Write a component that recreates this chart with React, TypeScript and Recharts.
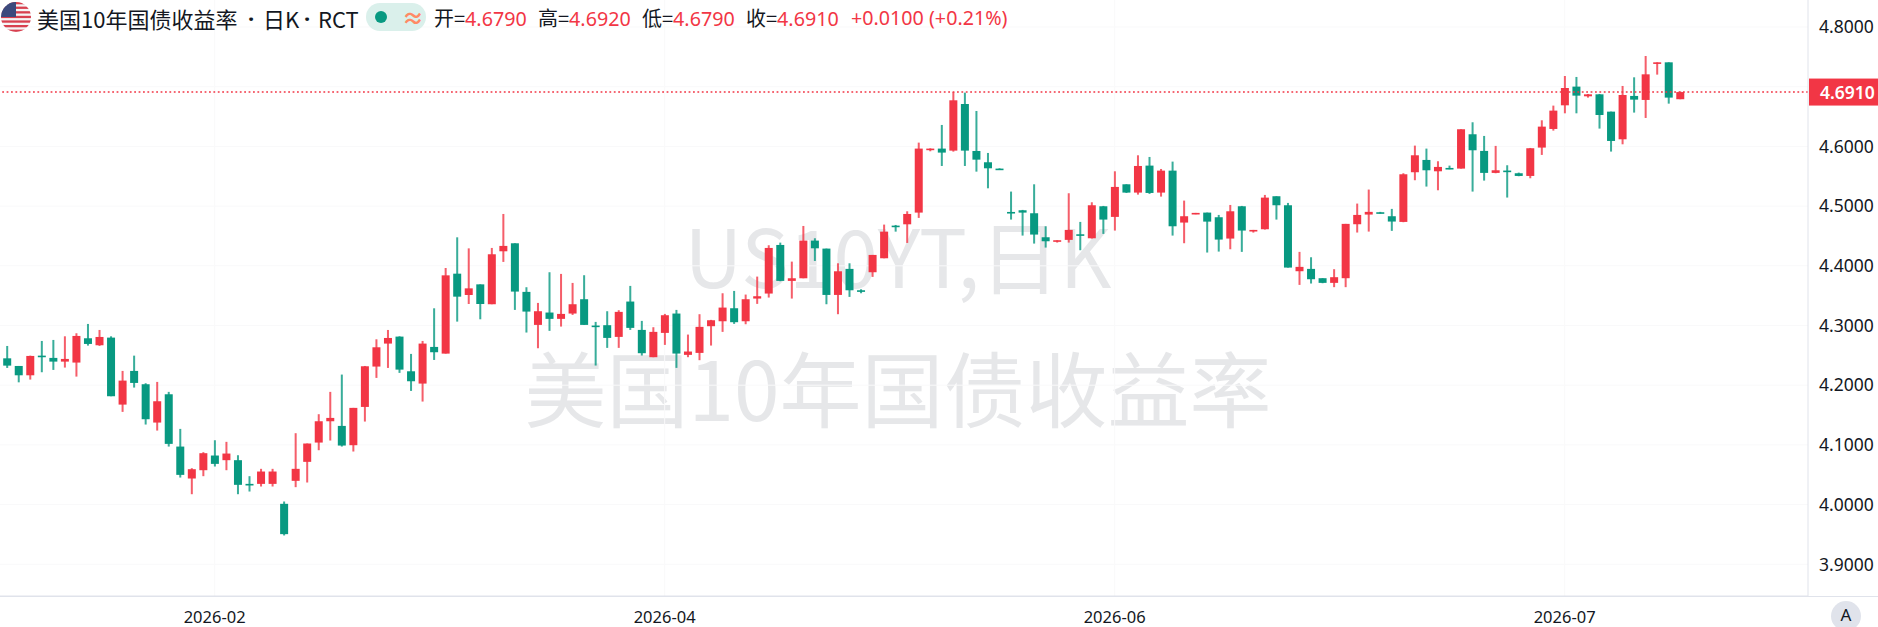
import { ComposedChart, Bar, XAxis, YAxis, CartesianGrid, ReferenceLine } from "recharts";

const opens = [
  4.2450, 4.2322, 4.2166, 4.2495, 4.2457, 4.2395, 4.2379, 4.2786, 4.2669, 4.2797,
  4.1675, 4.2239, 4.2016, 4.1374, 4.1848, 4.0972, 4.0437, 4.0576, 4.0822, 4.0744,
  4.0744, 4.0347, 4.0347, 4.0347, 4.0013, 4.0398, 4.0716, 4.1039, 4.1396, 4.1318,
  4.0995, 4.1636, 4.2312, 4.2697, 4.2814, 4.2233, 4.2027, 4.2641, 4.2529, 4.3868,
  4.3511, 4.3689, 4.3356, 4.4243, 4.4377, 4.3563, 4.3010, 4.3217, 4.3111, 4.3200,
  4.3440, 4.2999, 4.3005, 4.2809, 4.3401, 4.2926, 4.2469, 4.2876, 4.3200, 4.2508,
  4.2541, 4.2988, 4.3071, 4.3289, 4.3071, 4.3451, 4.3535, 4.4349, 4.3747, 4.3791,
  4.4422, 4.4288, 4.3512, 4.3948, 4.3590, 4.3892, 4.4126, 4.4673, 4.4695, 4.4891,
  4.5940, 4.5963, 4.5929, 4.6710, 4.5923, 4.5734, 4.5628, 4.4902, 4.4930, 4.4880,
  4.4478, 4.4406, 4.4434, 4.4528, 4.4461, 4.4997, 4.4819, 4.5365, 4.5226, 4.5678,
  4.5226, 4.5594, 4.4724, 4.4869, 4.4891, 4.4813, 4.4456, 4.4997, 4.4579, 4.4612,
  4.5165, 4.5014, 4.3909, 4.3948, 4.3792, 4.3714, 4.3792, 4.4696, 4.4858, 4.4897,
  4.4830, 4.4735, 4.5567, 4.5773, 4.5583, 4.5639, 4.5628, 4.6203, 4.5924, 4.5556,
  4.5595, 4.5550, 4.5505, 4.5980, 4.6292, 4.6688, 4.7001, 4.6839, 4.6872, 4.6582,
  4.6119, 4.6845, 4.6778, 4.7386, 4.7408, 4.6790,
];
const closes = [
  4.2328, 4.2166, 4.2490, 4.2473, 4.2395, 4.2440, 4.2825, 4.2691, 4.2808, 4.1815,
  4.2077, 4.2038, 4.1430, 4.1731, 4.1017, 4.0498, 4.0593, 4.0861, 4.0682, 4.0855,
  4.0331, 4.0325, 4.0554, 4.0554, 3.9505, 4.0599, 4.1023, 4.1396, 4.1452, 4.0989,
  4.1620, 4.2317, 4.2635, 4.2791, 4.2261, 4.2066, 4.2697, 4.2552, 4.3840, 4.3483,
  4.3622, 4.3360, 4.4193, 4.4333, 4.3568, 4.3233, 4.3239, 4.3111, 4.3194, 4.3356,
  4.3010, 4.2977, 4.2792, 4.3228, 4.2960, 4.2536, 4.2893, 4.3172, 4.2530, 4.2564,
  4.2977, 4.3088, 4.3300, 4.3055, 4.3440, 4.3490, 4.4299, 4.3747, 4.3791, 4.4422,
  4.4293, 4.3512, 4.3908, 4.3590, 4.3574, 4.4182, 4.4572, 4.4656, 4.4868, 4.5963,
  4.5963, 4.5896, 4.6772, 4.5929, 4.5778, 4.5633, 4.5611, 4.4880, 4.4891, 4.4523,
  4.4411, 4.4428, 4.4601, 4.4506, 4.5014, 4.4774, 4.5321, 4.5226, 4.5672, 4.5220,
  4.5594, 4.4662, 4.4830, 4.4886, 4.4740, 4.4439, 4.4913, 4.4590, 4.4601, 4.5142,
  4.5014, 4.3970, 4.3982, 4.3775, 4.3714, 4.3809, 4.4702, 4.4852, 4.4903, 4.4880,
  4.4741, 4.5533, 4.5851, 4.5600, 4.5656, 4.5623, 4.6287, 4.5935, 4.5556, 4.5600,
  4.5578, 4.5505, 4.5969, 4.6331, 4.6599, 4.6978, 4.6850, 4.6872, 4.6526, 4.6091,
  4.6861, 4.6783, 4.7207, 4.7408, 4.6817, 4.6910,
];
const highs = [
  4.2657, 4.2322, 4.2495, 4.2741, 4.2758, 4.2819, 4.2870, 4.3026, 4.2925, 4.2819,
  4.2239, 4.2495, 4.2033, 4.2055, 4.1888, 4.1268, 4.0610, 4.0878, 4.1078, 4.1051,
  4.0827, 4.0476, 4.0599, 4.0599, 4.0052, 4.1196, 4.1023, 4.1514, 4.1888, 4.2178,
  4.1620, 4.2322, 4.2769, 4.2925, 4.2819, 4.2524, 4.2741, 4.3288, 4.3963, 4.4477,
  4.4292, 4.3689, 4.4299, 4.4868, 4.4377, 4.3641, 4.3378, 4.3892, 4.3864, 4.3713,
  4.3842, 4.3060, 4.3239, 4.3256, 4.3663, 4.3077, 4.2971, 4.3194, 4.3261, 4.2848,
  4.3189, 4.3094, 4.3540, 4.3579, 4.3518, 4.3819, 4.4344, 4.4388, 4.4070, 4.4667,
  4.4461, 4.4288, 4.4042, 4.4042, 4.3607, 4.4182, 4.4690, 4.4684, 4.4913, 4.6063,
  4.5968, 4.6359, 4.6911, 4.6900, 4.6593, 4.5890, 4.5633, 4.5243, 4.4936, 4.5365,
  4.4662, 4.4428, 4.5215, 4.4735, 4.5064, 4.5003, 4.5583, 4.5365, 4.5851, 4.5823,
  4.5622, 4.5745, 4.5092, 4.4886, 4.4891, 4.4852, 4.5019, 4.5003, 4.4601, 4.5187,
  4.5165, 4.5053, 4.4233, 4.4143, 4.3792, 4.3943, 4.4702, 4.5042, 4.5277, 4.4903,
  4.4953, 4.5550, 4.6013, 4.5963, 4.5751, 4.5678, 4.6287, 4.6404, 4.6175, 4.6008,
  4.5684, 4.5561, 4.5974, 4.6437, 4.6683, 4.7179, 4.7163, 4.6878, 4.6878, 4.6582,
  4.7012, 4.7157, 4.7514, 4.7408, 4.7408, 4.6920,
];
const lows = [
  4.2289, 4.2048, 4.2094, 4.2217, 4.2256, 4.2295, 4.2144, 4.2663, 4.2658, 4.1815,
  4.1553, 4.1960, 4.1341, 4.1240, 4.0972, 4.0453, 4.0174, 4.0476, 4.0638, 4.0576,
  4.0174, 4.0219, 4.0303, 4.0303, 3.9483, 4.0292, 4.0370, 4.0911, 4.1073, 4.0972,
  4.0889, 4.1391, 4.2122, 4.2289, 4.2206, 4.1904, 4.1726, 4.2423, 4.2529, 4.3065,
  4.3360, 4.3104, 4.3356, 4.4065, 4.3261, 4.2882, 4.2619, 4.2910, 4.2982, 4.3177,
  4.3010, 4.2329, 4.2625, 4.2625, 4.2926, 4.2497, 4.2469, 4.2675, 4.2290, 4.2469,
  4.2419, 4.2664, 4.2893, 4.3027, 4.3021, 4.3362, 4.3468, 4.3741, 4.3451, 4.3791,
  4.4081, 4.3356, 4.3189, 4.3479, 4.3540, 4.3814, 4.4126, 4.4572, 4.4383, 4.4802,
  4.5918, 4.5672, 4.5912, 4.5672, 4.5577, 4.5298, 4.5605, 4.4774, 4.4506, 4.4372,
  4.4305, 4.4389, 4.4389, 4.4261, 4.4456, 4.4534, 4.4590, 4.5220, 4.5192, 4.5204,
  4.5159, 4.4506, 4.4378, 4.4863, 4.4222, 4.4238, 4.4277, 4.4233, 4.4556, 4.4607,
  4.4774, 4.3970, 4.3680, 4.3703, 4.3708, 4.3642, 4.3642, 4.4557, 4.4573, 4.4875,
  4.4585, 4.4730, 4.5433, 4.5327, 4.5265, 4.5617, 4.5628, 4.5243, 4.5427, 4.5550,
  4.5143, 4.5500, 4.5466, 4.5857, 4.6264, 4.6554, 4.6554, 4.6817, 4.6298, 4.5913,
  4.6035, 4.6566, 4.6476, 4.7202, 4.6716, 4.6790,
];

const priceTicks = [3.9, 4.0, 4.1, 4.2, 4.3, 4.4, 4.5, 4.6, 4.8];
const gridPrices = [3.9, 4.0, 4.1, 4.2, 4.3, 4.4, 4.5, 4.6, 4.7, 4.8];
const dateTickBars = [18, 57, 96, 135];
const dateTickLabels = ["2026-02", "2026-04", "2026-06", "2026-07"];
const lastPrice = 4.691;
const emptyBarsRight = 10;

const titleParts = [
  { text: "美国10年国债收益率", left: 37 },
  { text: "·", left: 248 },
  { text: "日K", left: 263 },
  { text: "·", left: 304 },
  { text: "RCT", left: 318 },
];
const legendValues = [
  { label: "开=", value: "4.6790", left: 434 },
  { label: "高=", value: "4.6920", left: 538 },
  { label: "低=", value: "4.6790", left: 642 },
  { label: "收=", value: "4.6910", left: 746 },
];
const legendChange = "+0.0100 (+0.21%)";

const RED = "#f23645";
const GREEN = "#089981";
const INK = "#131722";
const FONT = '"Noto Sans", "Noto Sans CJK SC", sans-serif';
const CJK = '"Noto Sans CJK SC", sans-serif';

const rows = [
  ...opens.map((open, i) => ({
    bar: i,
    open,
    close: closes[i],
    body: [Math.min(open, closes[i]), Math.max(open, closes[i])],
    wick: [lows[i], highs[i]],
  })),
  ...Array.from({ length: emptyBarsRight }, (_, i) => ({ bar: opens.length + i })),
];

function candlePart(props: any) {
  const { x, y, width, height, payload } = props;
  if (payload.open === undefined) return <g />;
  const color = payload.close >= payload.open ? RED : GREEN;
  const h = Math.max(height, 1.6);
  return <rect x={x} y={y} width={width} height={h} fill={color} />;
}

function wickPart(props: any) {
  const { x, y, width, height, payload } = props;
  if (payload.open === undefined) return <g />;
  const color = payload.close >= payload.open ? RED : GREEN;
  return <rect x={x} y={y} width={width} height={height} fill={color} fillOpacity={0.8} />;
}

function PriceTag(props: any) {
  const { viewBox } = props;
  const x = viewBox.x + viewBox.width;
  const y = viewBox.y;
  return (
    <g>
      <rect x={x + 1} y={y - 13.5} width={70} height={27} fill={RED} />
      <text x={x + 12} y={y + 6.5} fill="#fff" fontSize={17.5} fontFamily={FONT} fontWeight={600}>
        {lastPrice.toFixed(4)}
      </text>
    </g>
  );
}

function Flag() {
  return (
    <svg width={30} height={30} viewBox="0 0 30 30" style={{ position: "absolute", left: 1, top: 2 }}>
      <defs>
        <clipPath id="flagRound">
          <circle cx={15} cy={15} r={15} />
        </clipPath>
      </defs>
      <g clipPath="url(#flagRound)">
        <rect width={30} height={30} fill="#f5f5f5" />
        {[0, 4.6, 9.2, 13.8, 18.4, 23, 27.6].map((y) => (
          <rect key={y} y={y} width={30} height={2.3} fill="#d8404f" />
        ))}
        <rect width={15} height={15} fill="#3c4a7d" />
      </g>
    </svg>
  );
}

export default function App() {
  const common = { position: "absolute" as const, whiteSpace: "nowrap" as const };
  return (
    <div style={{ position: "absolute", left: 0, top: 0, width: 1878, height: 627, overflow: "hidden", background: "#fff", fontFamily: FONT }}>
      <div style={{ ...common, left: 0, width: 1796, textAlign: "center", top: 178, fontSize: 80, color: "#e6e7e9", lineHeight: "150px", fontFamily: CJK }}>
        US10YT,日K
      </div>
      <div style={{ ...common, left: 0, width: 1796, textAlign: "center", top: 321, fontSize: 82, color: "#e6e7e9", lineHeight: "130px", fontFamily: CJK }}>
        美国10年国债收益率
      </div>

      <div style={{ position: "absolute", left: 0, top: 0 }}>
        <ComposedChart width={1878} height={627} data={rows} margin={{ top: 0, right: 0, bottom: 0, left: 0 }}>
          <CartesianGrid
            xAxisId="body"
            yAxisId="price"
            stroke="#f9f9fa"
            syncWithTicks
            horizontalValues={gridPrices}
          />
          <XAxis
            xAxisId="body"
            dataKey="bar"
            type="category"
            scale="band"
            padding={{ left: 1.2, right: 6.8 }}
            ticks={dateTickBars}
            interval={0}
            height={31}
            tickLine={false}
            tickMargin={9}
            axisLine={{ stroke: "#e0e3eb" }}
            tick={{ fill: INK, fontSize: 16.5, fontFamily: FONT }}
            tickFormatter={(v) => dateTickLabels[dateTickBars.indexOf(v)]}
          />
          <XAxis xAxisId="wick" dataKey="bar" type="category" scale="band" padding={{ left: 1.2, right: 6.8 }} height={0} hide />
          <YAxis
            yAxisId="price"
            orientation="right"
            width={70}
            type="number"
            domain={[3.8469, 4.8452]}
            allowDataOverflow
            ticks={priceTicks}
            tickLine={false}
            tickMargin={5}
            axisLine={{ stroke: "#e0e3eb" }}
            tick={{ fill: INK, fontSize: 17.5, fontFamily: FONT }}
            tickFormatter={(v) => v.toFixed(4)}
          />
          <Bar xAxisId="wick" yAxisId="price" dataKey="wick" barSize={2} shape={wickPart} isAnimationActive={false} />
          <Bar xAxisId="body" yAxisId="price" dataKey="body" barSize={8} shape={candlePart} isAnimationActive={false} />
          <ReferenceLine
            xAxisId="body"
            yAxisId="price"
            y={lastPrice}
            stroke={RED}
            strokeWidth={1.6}
            strokeDasharray="1.8 2.6"
            label={<PriceTag />}
          />
        </ComposedChart>
      </div>

      <div style={{ position: "absolute", left: 0, right: 0, top: 596, height: 1, background: "#e0e3eb" }} />

      <Flag />
      {titleParts.map((d) => (
        <div key={d.left} style={{ ...common, left: d.left, top: 3, fontSize: 22, lineHeight: "30px", color: INK, fontFamily: d.text === "·" ? FONT : CJK, fontWeight: d.text === "·" ? 700 : 400 }}>
          {d.text}
        </div>
      ))}
      <div style={{ position: "absolute", left: 366, top: 3, width: 60, height: 28, borderRadius: 14, background: "#daf0eb" }} />
      <div style={{ position: "absolute", left: 375, top: 11, width: 12, height: 12, borderRadius: 6, background: GREEN }} />
      <div style={{ ...common, left: 402, top: 2, fontSize: 22, lineHeight: "30px", fontWeight: 700, color: "#ff8a65" }}>≈</div>
      {legendValues.map((d) => (
        <div key={d.label} style={{ ...common, left: d.left, top: 3, fontSize: 20, lineHeight: "30px", color: INK, fontFamily: CJK }}>
          {d.label}
          <span style={{ color: RED, fontFamily: FONT, fontSize: 19.7 }}>{d.value}</span>
        </div>
      ))}
      <div style={{ ...common, left: 851, top: 3, fontSize: 19.7, lineHeight: "30px", color: RED }}>{legendChange}</div>

      <div style={{ position: "absolute", left: 1831, top: 601, width: 30, height: 30, borderRadius: 15, background: "#e0e3eb", textAlign: "center", fontSize: 17, lineHeight: "28px", color: INK }}>
        A
      </div>
    </div>
  );
}
